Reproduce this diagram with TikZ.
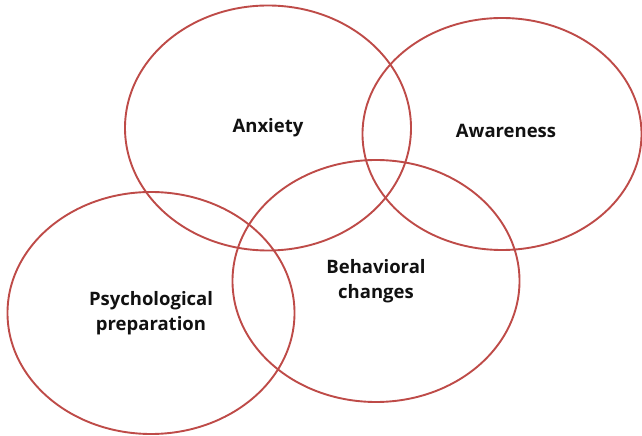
\documentclass[tikz,border=0pt]{standalone}
\usepackage{fontspec}
\setmainfont{Open Sans}
\usetikzlibrary{shapes.geometric,positioning}
\definecolor{vnRed}{HTML}{BE4B48}
\definecolor{vnInk}{HTML}{111111}
\tikzset{
  blob/.style={ellipse, draw=vnRed, line width=1.9pt, inner sep=0pt, font=\fontsize{18.5}{25}\selectfont\bfseries, text=vnInk, align=center},
}
\begin{document}
\begin{tikzpicture}[x=1pt,y=1pt]
  \useasboundingbox (0,0) rectangle (642,436);
  % circles, top row then bottom row
  \node[blob, minimum width=286pt, minimum height=245pt] (anx) at (268,308) {Anxiety};
  \node[blob, minimum width=279pt, minimum height=232pt] (awa) at (502,302) {\raisebox{6pt}{\hspace*{8pt}Awareness}};
  \node[blob, minimum width=287pt, minimum height=242pt] (beh) at (376,155) {Behavioral\\changes};
  \node[blob, minimum width=287pt, minimum height=242pt] (psy) at (151,123) {Psychological\\preparation};
\end{tikzpicture}
\end{document}
